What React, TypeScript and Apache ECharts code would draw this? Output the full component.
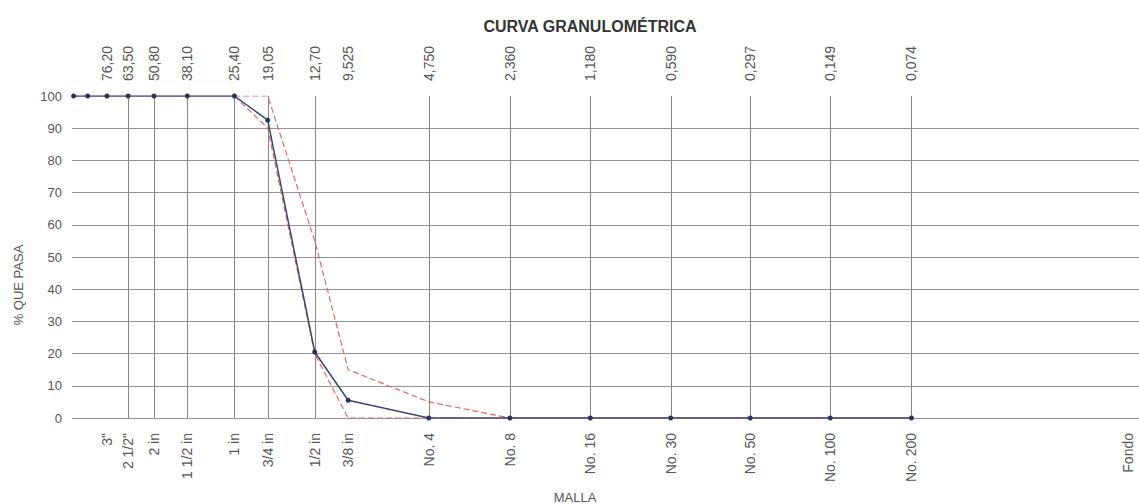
import React, { useEffect, useRef } from 'react';
import * as echarts from 'echarts';

// Sample gradation (sieve opening in mm, % passing)
const sampleSizes = [101.6, 90.0, 76.2, 63.5, 50.8, 38.1, 25.4, 19.05, 12.7, 9.525, 4.75, 2.36, 1.18, 0.59, 0.297, 0.149, 0.074];
const samplePassing = [100, 100, 100, 100, 100, 100, 100, 92.5, 20.5, 5.5, 0, 0, 0, 0, 0, 0, 0];

// Specification limits
const limitSizes = [25.4, 19.05, 12.7, 9.525, 4.75, 2.36, 1.18, 0.59, 0.297, 0.149, 0.074];
const upperLimit = [100, 100, 55, 15, 5, 0, 0, 0, 0, 0, 0];
const lowerLimit = [100, 90, 20, 0, 0, 0, 0, 0, 0, 0, 0];

// Sieve axis labels
const sieveSizes = [76.2, 63.5, 50.8, 38.1, 25.4, 19.05, 12.7, 9.525, 4.75, 2.36, 1.18, 0.59, 0.297, 0.149, 0.074, 0.0114];
const sieveNames = ['3"', '2 1/2"', '2 in', '1 1/2 in', '1 in', '3/4 in', '1/2 in', '3/8 in', 'No. 4', 'No. 8', 'No. 16', 'No. 30', 'No. 50', 'No. 100', 'No. 200', 'Fondo'];
const sizeLabels = ['76,20', '63,50', '50,80', '38,10', '25,40', '19,05', '12,70', '9,525', '4,750', '2,360', '1,180', '0,590', '0,297', '0,149', '0,074', ''];
const sieveHasLine = [false, true, true, true, true, true, true, false, true, true, true, true, true, true, true, false];

const TITLE = 'CURVA GRANULOMÉTRICA';
const Y_NAME = '% QUE PASA';
const X_NAME = 'MALLA';

const FONT = '"Liberation Sans", Arial, sans-serif';

export default function App() {
  const ref = useRef<HTMLDivElement>(null);
  useEffect(() => {
    if (!ref.current) return;
    const chart = echarts.init(ref.current, null, { renderer: 'svg' });
    const pair = (xs: number[], ys: number[]) => xs.map((x, i) => [x, ys[i]]);
    chart.setOption({
      animation: false,
      backgroundColor: '#ffffff',
      title: {
        text: TITLE,
        left: 585,
        top: 13,
        textAlign: 'center',
        textStyle: { fontFamily: FONT, fontSize: 16, fontWeight: 'bold', color: '#333' },
      },
      grid: { left: 72, right: 0, top: 96, bottom: 86 },
      xAxis: {
        type: 'log',
        inverse: true,
        min: 0.0104,
        max: 103,
        axisLine: { show: false },
        axisTick: { show: false },
        axisLabel: { show: false },
        splitLine: { show: false },
        minorSplitLine: { show: false },
      },
      yAxis: {
        type: 'value',
        min: 0,
        max: 100,
        interval: 10,
        axisLine: { show: false },
        axisTick: { show: false },
        axisLabel: { color: '#555', fontFamily: FONT, fontSize: 13, margin: 10 },
        splitLine: { show: true, showMaxLine: false, lineStyle: { color: '#959595', width: 1 } },
      },
      graphic: [
        {
          type: 'text',
          x: 18,
          y: 285,
          rotation: Math.PI / 2,
          style: { text: Y_NAME, fill: '#555', font: `13px ${FONT}`, align: 'center', verticalAlign: 'middle' },
        },
        {
          type: 'text',
          x: 575,
          y: 497,
          style: { text: X_NAME, fill: '#555', font: `13px ${FONT}`, align: 'center', verticalAlign: 'middle' },
        },
      ],
      series: [
        {
          type: 'custom',
          name: 'tamices',
          z: 1,
          clip: false,
          silent: true,
          data: sieveSizes.map((s) => [s, 0]),
          renderItem: (params: any, api: any) => {
            const i = params.dataIndex;
            const size = api.value(0);
            const top = api.coord([size, 100]);
            const bottom = api.coord([size, 0]);
            const xx = Math.round(top[0]) + 0.5;
            const children: any[] = [];
            if (sieveHasLine[i]) {
              children.push({
                type: 'line',
                shape: { x1: xx, y1: top[1], x2: xx, y2: bottom[1] },
                style: { stroke: '#858585', lineWidth: 1 },
              });
            }
            if (sizeLabels[i]) {
              children.push({
                type: 'text',
                x: top[0],
                y: top[1] - 15,
                rotation: Math.PI / 2,
                style: { text: sizeLabels[i], fill: '#555', font: `14px ${FONT}`, align: 'left', verticalAlign: 'middle' },
              });
            }
            children.push({
              type: 'text',
              x: bottom[0],
              y: bottom[1] + 15,
              rotation: Math.PI / 2,
              style: { text: sieveNames[i], fill: '#555', font: `14px ${FONT}`, align: 'right', verticalAlign: 'middle' },
            });
            return { type: 'group', children };
          },
        },
        {
          type: 'line',
          name: 'Límite superior',
          z: 2,
          data: pair(limitSizes, upperLimit),
          symbol: 'none',
          lineStyle: { color: '#e4685f', width: 1.2, type: [6, 3] },
        },
        {
          type: 'line',
          name: 'Límite inferior',
          z: 2,
          data: pair(limitSizes, lowerLimit),
          symbol: 'none',
          lineStyle: { color: '#e4685f', width: 1.2, type: [6, 3] },
        },
        {
          type: 'line',
          name: 'Muestra',
          z: 3,
          data: pair(sampleSizes, samplePassing),
          symbol: 'circle',
          symbolSize: 5,
          itemStyle: { color: '#2a3358' },
          lineStyle: { color: '#3b4777', width: 1.5 },
        },
      ],
    });
    return () => chart.dispose();
  }, []);
  return (
    <div
      ref={ref}
      style={{ position: 'fixed', left: 0, top: 0, width: 1139, height: 504, background: '#fff' }}
    />
  );
}
